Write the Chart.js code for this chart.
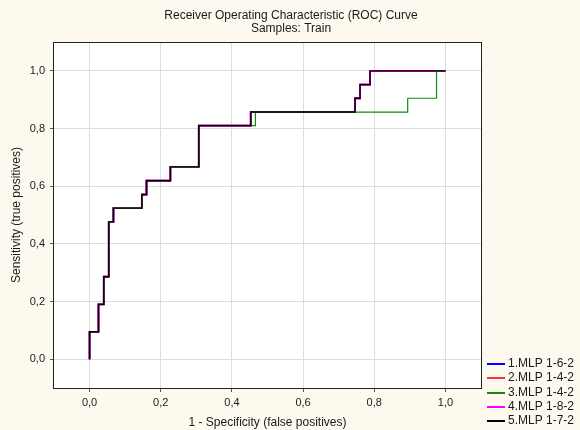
<!DOCTYPE html>
<html>
<head>
<meta charset="utf-8">
<script src="https://cdn.jsdelivr.net/npm/chart.js@4/dist/chart.umd.min.js"></script>
<style>
  html, body { margin: 0; padding: 0; background: #fef9ee; }
  #wrap { width: 580px; height: 430px; position: relative; }
</style>
</head>
<body>
<div id="wrap"><canvas id="roc" width="580" height="430"></canvas></div>
<script>
// Model names shown in the legend
const seriesNames = ['1.MLP 1-6-2', '2.MLP 1-4-2', '3.MLP 1-4-2', '4.MLP 1-8-2', '5.MLP 1-7-2'];

// ROC operating points (1 - specificity, sensitivity) shared by models 1, 2, 4 and 5
const fprShared = [0, 0, 0.025, 0.040, 0.054, 0.067, 0.147, 0.160, 0.227, 0.307, 0.453, 0.746, 0.760, 0.788, 1.0];
const tprShared = [0, 0.095, 0.190, 0.286, 0.476, 0.524, 0.571, 0.619, 0.667, 0.810, 0.857, 0.905, 0.952, 1.0, 1.0];

// ROC operating points for model 3
const fprModel3 = [0, 0, 0.025, 0.040, 0.054, 0.067, 0.147, 0.160, 0.227, 0.307, 0.466, 0.894, 0.975, 1.0];
const tprModel3 = [0, 0.095, 0.190, 0.286, 0.476, 0.524, 0.571, 0.619, 0.667, 0.810, 0.857, 0.905, 1.0, 1.0];

// Axis ticks
const xTickValues = [0, 0.2, 0.4, 0.6, 0.8, 1.0];
const xTickLabels = ['0,0', '0,2', '0,4', '0,6', '0,8', '1,0'];
const yTickValues = [0, 0.2, 0.4, 0.6, 0.8, 1.0];
const yTickLabels = ['0,0', '0,2', '0,4', '0,6', '0,8', '1,0'];

// Line styling per model
const lineColors = ['#0000ff', '#ff3030', '#128a12', '#ff00ff', '#000000'];
const lineWidths = [1.8, 1.8, 1.2, 1.8, 1.4];
const drawOrder = [4, 3, 1, 2, 0];

const FONT = "'Liberation Sans', Arial, sans-serif";

function toPoints(xs, ys) {
  return xs.map((x, i) => ({ x: x, y: ys[i] }));
}

const curves = [
  toPoints(fprShared, tprShared),
  toPoints(fprShared, tprShared),
  toPoints(fprModel3, tprModel3),
  toPoints(fprShared, tprShared),
  toPoints(fprShared, tprShared)
];

// horizontal move first, then the vertical rise to the next operating point
const datasets = seriesNames.map((name, i) => ({
  label: name,
  data: curves[i],
  borderColor: lineColors[i],
  backgroundColor: lineColors[i],
  borderWidth: lineWidths[i],
  stepped: 'before',
  pointRadius: 0,
  fill: false,
  order: drawOrder[i],
  borderJoinStyle: 'miter',
  borderCapStyle: 'butt'
}));

// Cream page, white plotting area, frame, titles and legend
const decorations = {
  id: 'decorations',
  beforeDraw(chart) {
    const { ctx, chartArea: a } = chart;
    ctx.save();
    ctx.fillStyle = '#fef9ee';
    ctx.fillRect(0, 0, chart.width, chart.height);
    ctx.fillStyle = '#ffffff';
    ctx.fillRect(a.left, a.top, a.right - a.left, a.bottom - a.top);
    ctx.restore();
  },
  afterDraw(chart) {
    const { ctx, chartArea: a } = chart;
    ctx.save();
    // frame around the plotting area
    ctx.strokeStyle = '#222222';
    ctx.lineWidth = 1;
    ctx.strokeRect(Math.round(a.left) - 0.5, Math.round(a.top) + 0.5,
                   Math.round(a.right - a.left) + 1, Math.round(a.bottom - a.top));
    // chart title
    ctx.fillStyle = '#1a1a1a';
    ctx.font = '12px ' + FONT;
    ctx.textAlign = 'center';
    ctx.textBaseline = 'middle';
    ctx.fillText('Receiver Operating Characteristic (ROC) Curve', 291, 15.5);
    ctx.fillText('Samples: Train', 291, 29);
    // legend
    ctx.font = '12px ' + FONT;
    ctx.textAlign = 'left';
    chart.data.datasets.forEach((ds, i) => {
      const y = Math.round(363 + i * 14.3);
      ctx.strokeStyle = ds.borderColor;
      ctx.lineWidth = 2;
      ctx.beginPath();
      ctx.moveTo(487, y + 1);
      ctx.lineTo(505, y + 1);
      ctx.stroke();
      ctx.fillStyle = '#1a1a1a';
      ctx.fillText(ds.label, 508, y + 1);
    });
    ctx.restore();
  }
};

new Chart(document.getElementById('roc'), {
  type: 'line',
  data: { datasets: datasets },
  options: {
    responsive: false,
    animation: false,
    devicePixelRatio: 1,
    layout: { padding: { left: 0, right: 99, top: 42, bottom: 0 } },
    plugins: {
      legend: { display: false },
      title: { display: false },
      tooltip: { enabled: false }
    },
    scales: {
      x: {
        type: 'linear',
        min: -0.1,
        max: 1.1,
        afterBuildTicks: s => { s.ticks = xTickValues.map(v => ({ value: v })); },
        afterFit: s => { s.height = 42; },
        ticks: {
          callback: (v, i) => xTickLabels[i],
          font: { family: FONT, size: 11 },
          color: '#1a1a1a',
          padding: 4,
          maxRotation: 0,
          autoSkip: false
        },
        grid: { color: '#dddddd', lineWidth: 1, tickLength: 4, tickColor: '#555555' },
        border: { display: false },
        title: {
          display: true,
          text: '1 - Specificity (false positives)',
          font: { family: FONT, size: 12 },
          color: '#1a1a1a',
          padding: { top: 0, bottom: 0 }
        }
      },
      y: {
        type: 'linear',
        min: -0.1,
        max: 1.1,
        afterBuildTicks: s => { s.ticks = yTickValues.map(v => ({ value: v })); },
        afterFit: s => { s.width = 54; },
        ticks: {
          callback: (v, i) => yTickLabels[i],
          font: { family: FONT, size: 11 },
          color: '#1a1a1a',
          padding: 5,
          autoSkip: false
        },
        grid: { color: '#dddddd', lineWidth: 1, tickLength: 4, tickColor: '#555555' },
        border: { display: false },
        title: {
          display: true,
          text: 'Sensitivity (true positives)',
          font: { family: FONT, size: 12 },
          color: '#1a1a1a',
          padding: { top: 9.5, bottom: 0 }
        }
      }
    }
  },
  plugins: [decorations]
});
</script>
</body>
</html>
